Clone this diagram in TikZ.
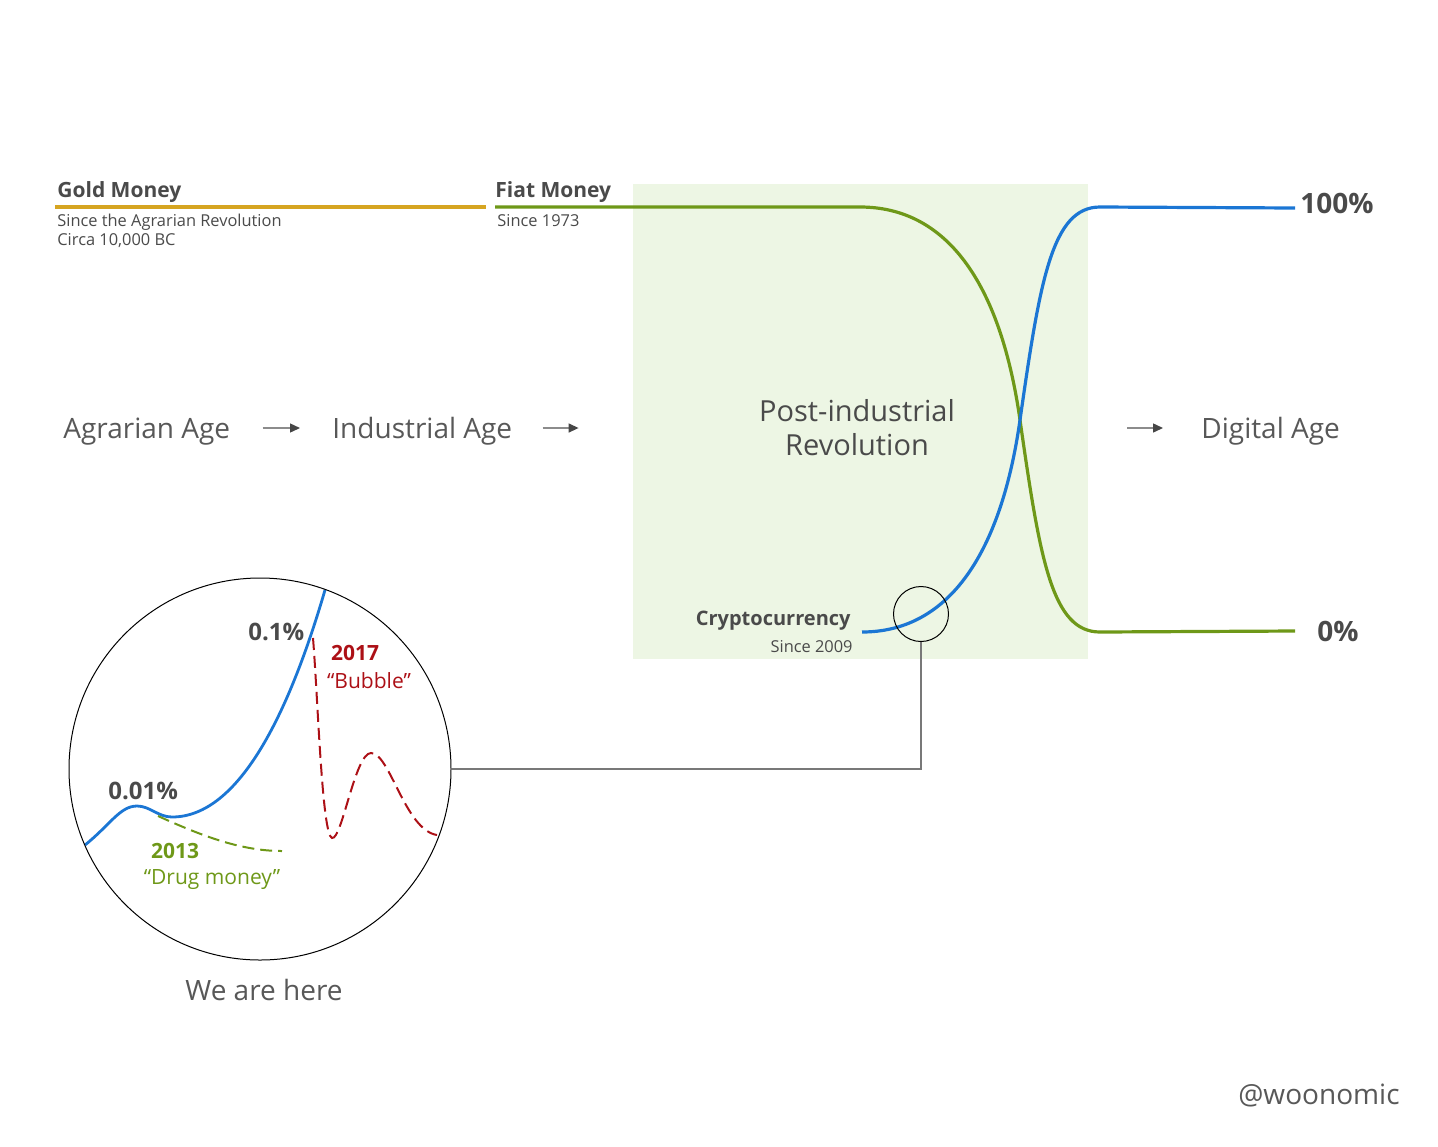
\documentclass[tikz,border=0pt]{standalone}
\usepackage{fontspec}
\setmainfont{Open Sans}
\usetikzlibrary{arrows.meta}
\definecolor{goldline}{RGB}{214,165,33}
\definecolor{fiatgreen}{RGB}{110,152,24}
\definecolor{cryptoblue}{RGB}{27,118,212}
\definecolor{bubblered}{RGB}{172,16,22}
\definecolor{boxgreen}{RGB}{237,246,228}
\definecolor{textgray}{RGB}{74,74,74}
\definecolor{agegray}{RGB}{88,88,88}
\definecolor{arrowgray}{RGB}{140,140,140}
\definecolor{arrowtip}{RGB}{70,70,70}
\definecolor{linkgray}{RGB}{120,120,120}

\begin{document}
\begin{tikzpicture}[x = 0.5pt, y = -0.5pt,
  txt/.style = {inner sep = 0pt, text = textgray},
  age/.style = {txt, text = agegray, font = \fontsize{14}{17}\selectfont},
  head/.style = {txt, font = \fontsize{10.5}{12}\selectfont\bfseries},
  sub/.style = {txt, font = \fontsize{8.2}{9.5}\selectfont},
  pct/.style = {txt, font = \fontsize{14}{16}\selectfont\bfseries},
  small/.style = {txt, font = \fontsize{12}{14}\selectfont\bfseries},
  note/.style = {inner sep = 0pt, font = \fontsize{10.5}{13}\selectfont},
  agearrow/.style = {draw = arrowgray, line width = 0.7pt, -{Triangle[length = 5pt, width = 4.5pt, color = arrowtip]}},
  money/.style = {line width = 1.6pt},
  histdash/.style = {line width = 1pt, dash pattern = on 6pt off 3pt},
  ring/.style = {circle, draw = black, line width = 0.5pt, inner sep = 0pt}]
\useasboundingbox (0,0) rectangle (1438,1146);
\fill[boxgreen] (633,184) rectangle (1088,659);

\draw[money, goldline] (55,207) -- (486,207);
\draw[money, fiatgreen] (495,207) -- (860,207) .. controls (945,207) and (1000,280) .. (1020,420) .. controls (1040,560) and (1052,632) .. (1100,632) -- (1295,631);
\draw[money, cryptoblue] (862,632) .. controls (945,632) and (1000,560) .. (1020,420) .. controls (1040,280) and (1052,207) .. (1100,207) -- (1295,208);

\node[head, anchor = base west] (gold) at (57,197) {Gold Money};
\node[sub, anchor = base west, align = left] (goldsince) at (57,245) {Since the Agrarian Revolution\\Circa 10,000 BC};
\node[head, anchor = base west] (fiat) at (495,197) {Fiat Money};
\node[sub, anchor = base west] (fiatsince) at (497,226) {Since 1973};
\node[pct, anchor = base west] (full) at (1300,213) {100\%};
\node[pct, anchor = base west] (none) at (1317,641) {0\%};

\node[age, anchor = base west] (agrarian) at (63,438) {Agrarian Age};
\node[age, anchor = base west] (industrial) at (332,438) {Industrial Age};
\node[age, anchor = base west] (digital) at (1201,438) {Digital Age};
\node[age, text = textgray, align = center, font = \fontsize{14.5}{17}\selectfont] (postind) at (857,428) {Post-industrial\\Revolution};
\draw[agearrow] ([xshift = 16pt, yshift = 5pt]agrarian.base east) -- ([xshift = -16pt, yshift = 5pt]industrial.base west);
\draw[agearrow] ([xshift = 15pt, yshift = 5pt]industrial.base east) -- ([xshift = 33pt, yshift = 5pt]industrial.base east);
\draw[agearrow] ([xshift = -37pt, yshift = 5pt]digital.base west) -- ([xshift = -19pt, yshift = 5pt]digital.base west);

\node[head, anchor = base east, font = \fontsize{10}{12}\selectfont\bfseries] (crypto) at (851,625) {Cryptocurrency};
\node[sub, anchor = base east] (cryptosince) at (853,652) {Since 2009};

\draw[cryptoblue, line width = 1.4pt] (85,845) .. controls (110,825) and (120,806) .. (137,806) .. controls (150,806) and (158,817) .. (172,817) .. controls (240,817) and (290,710) .. (325,590);
\draw[histdash, fiatgreen] (158,816) .. controls (200,835) and (240,851) .. (282,851);
\draw[histdash, bubblered] (313,638) .. controls (318,700) and (322,835) .. (332,838) .. controls (342,840) and (355,753) .. (371,753) .. controls (390,753) and (405,830) .. (437,835);

\node[small, anchor = base west] (tiny) at (108,799) {0.01\%};
\node[small, anchor = base west] (tenth) at (248,640) {0.1\%};
\node[note, fiatgreen, anchor = base, font = \fontsize{10.5}{13}\selectfont\bfseries] (yr13) at (175,858) {2013};
\node[note, fiatgreen, anchor = base] (drug) at (212,884) {“Drug money”};
\node[note, bubblered, anchor = base, font = \fontsize{10.5}{13}\selectfont\bfseries] (yr17) at (355,660) {2017};
\node[note, bubblered, anchor = base] (bubble) at (369,688) {“Bubble”};

\node[ring, minimum size = 27.5pt] (lens) at (921,614) {};
\node[ring, minimum size = 191pt] (zoom) at (260,769) {};
\draw[linkgray, line width = 0.7pt] (lens.south) |- (zoom.east);

\node[age, anchor = base] (here) at (264,1000) {We are here};
\node[age, anchor = base east] (credit) at (1400,1104) {@woonomic};
\end{tikzpicture}
\end{document}
